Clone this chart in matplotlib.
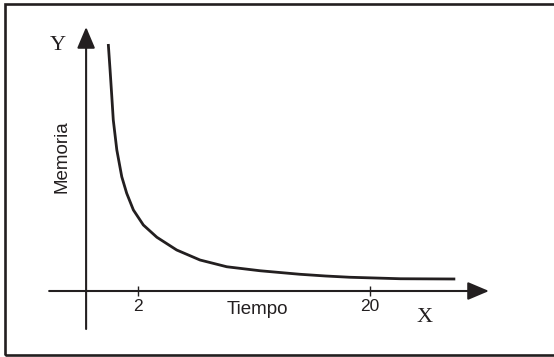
import numpy as np
import matplotlib
matplotlib.use("Agg")
import matplotlib.pyplot as plt
from matplotlib.patches import Rectangle

# values (time vs memory, arbitrary units)
tiempo = [0.63, 0.70, 0.77, 0.83, 0.98, 1.20, 1.43, 1.76, 2.28, 3.04, 4.25,
          5.80, 7.72, 10.3, 13.6, 15.9, 18.1, 23.0, 28.6]
memoria = [9.88, 8.84, 7.77, 6.84, 5.64, 4.57, 3.91, 3.24, 2.64, 2.15, 1.64,
           1.24, 0.97, 0.81, 0.67, 0.60, 0.55, 0.49, 0.48]
xtick_vals = [2, 20]
xtick_labels = ["2", "20"]

ink = "#231f20"
p = 0.737

def fwd(x):
    x = np.asarray(x, dtype=float)
    return np.sign(x) * np.abs(x) ** p

def inv(x):
    x = np.asarray(x, dtype=float)
    return np.sign(x) * np.abs(x) ** (1 / p)

W, H = 554, 357
fig = plt.figure(figsize=(W / 100, H / 100), dpi=100)
fig.patch.set_facecolor("white")

# outer frame (right side runs off the picture)
fig.patches.append(Rectangle((5 / W, 2 / H), 1.2, 351 / H, transform=fig.transFigure,
                             fill=False, edgecolor=ink, linewidth=1.9))

ax = fig.add_axes([40 / W, 16 / H, 460 / W, 325 / H])
ax.set_xscale("function", functions=(fwd, inv))
ax.set_xlim(-1.7, 33.4)
ax.set_ylim(-2, 11)
ax.patch.set_alpha(0)

for s in ["top", "right", "left"]:
    ax.spines[s].set_visible(False)
ax.spines["bottom"].set_position(("data", 0))
ax.spines["bottom"].set_color("none")

# axes with arrow heads
arrow = dict(arrowstyle="-|>,head_length=1.3,head_width=0.55", color=ink, lw=1.5,
             shrinkA=0, shrinkB=0, mutation_scale=10)
ax.annotate("", xy=(32.2, 0), xytext=(-1.26, 0), arrowprops=arrow)
ax.annotate("", xy=(0, 10.56), xytext=(0, -1.52), arrowprops=arrow)

ax.plot(tiempo, memoria, color=ink, lw=2.0, solid_capstyle="butt",
        solid_joinstyle="round")

ax.set_xticks(xtick_vals)
ax.set_xticklabels(xtick_labels, fontfamily="Liberation Sans", fontsize=12.5, color=ink)
ax.xaxis.set_minor_locator(matplotlib.ticker.NullLocator())
ax.tick_params(axis="x", direction="inout", length=7, width=1, pad=2, color=ink)
ax.set_yticks([])

fig.text(257 / W, 1 - 310 / H, "Tiempo", ha="center", va="center",
         fontfamily="Liberation Sans", fontsize=13.5, color=ink)
fig.text(62 / W, 1 - 157 / H, "Memoria", ha="center", va="center", rotation=90,
         fontfamily="Liberation Sans", fontsize=13.5, color=ink)
fig.text(58 / W, 1 - 46 / H, "Y", ha="center", va="center",
         fontfamily="Liberation Serif", fontsize=16, color=ink)
fig.text(425 / W, 1 - 317 / H, "X", ha="center", va="center",
         fontfamily="Liberation Serif", fontsize=16, color=ink)

fig.savefig("out.png", dpi=100)
